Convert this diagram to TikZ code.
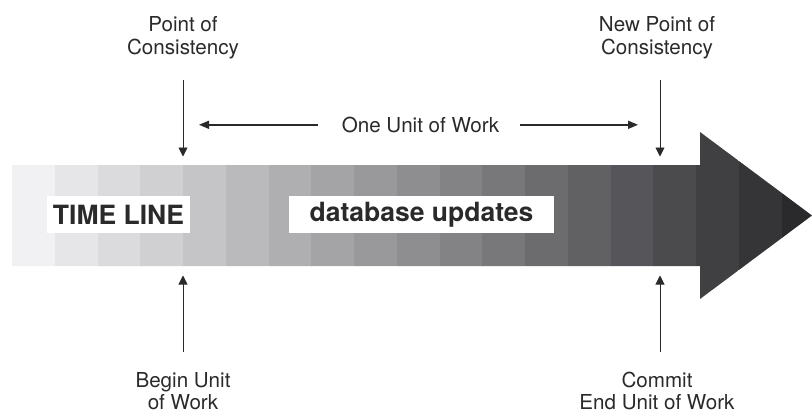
\documentclass[tikz,border=0pt]{standalone}
\usepackage{fontspec}
\setmainfont{TeX Gyre Heros}
\usepackage{xcolor}
\usepackage{tikz}
\usetikzlibrary{arrows.meta}

\definecolor{ink}{HTML}{2A2A2A}

\begin{document}
\begin{tikzpicture}[
  x=1pt, y=-1pt,
  every node/.style={text=ink, inner sep=0pt, align=center},
  label/.style={font=\fontsize{20.6}{22.6}\selectfont},
  tag/.style={fill=white, font=\fontsize{26.5}{28}\selectfont\bfseries,
    minimum height=37pt},
  tick/.style={draw=ink, line width=0.9pt, -{Triangle[length=9pt, width=9pt]}},
  span/.style={draw=ink, line width=1.6pt, -{Triangle[length=10pt, width=8pt]}}]

\useasboundingbox (0,0) rectangle (812,415);

% the time line arrow, cut in grey stripes
\begin{scope}
  \clip (12,165) -- (700,165) -- (700,132) -- (812,215.5) -- (700,299)
    -- (700,266) -- (12,266) -- cycle;
  \foreach \i in {0,...,18} {
    \pgfmathsetmacro\g{0.945-0.0433*\i}
    \pgfmathsetmacro\gb{min(1,\g+0.012)}
    \definecolor{stripe}{rgb}{\g,\g,\gb}
    \fill[stripe] ({12+42.75*\i},120) rectangle ({12+42.75*(\i+1)+0.3},310);
  }
\end{scope}

\node[tag, minimum width=143pt] (timeline) at (118.5,214.6) {TIME LINE};
\node[tag, minimum width=265pt] (updates) at (421.5,214.6) {database updates};

% labels
\node[label] (poc) at (183,37.5) {Point of\\Consistency};
\node[label] (npoc) at (657,37.5) {New Point of\\Consistency};
\node[label] (unit) at (420.5,124.8) {One Unit of Work};
\node[label] (begin) at (183,391) {Begin Unit\\of Work};
\node[label] (commit) at (657,391) {Commit\\End Unit of Work};

% where the unit of work starts and ends
\coordinate (start) at (183,215.5);
\coordinate (end) at (660,215.5);
\coordinate (top) at (0,156.5);
\coordinate (bottom) at (0,275.5);

\draw[tick] ([yshift=-21pt]poc.south) -- (start |- top);
\draw[tick] ([yshift=-21pt]npoc.south -| end) -- (end |- top);
\draw[tick] ([yshift=20pt]begin.north) -- (start |- bottom);
\draw[tick] ([yshift=20pt]commit.north -| end) -- (end |- bottom);

\draw[span, shorten <=24pt, shorten >=16pt] (unit) -- (unit -| start);
\draw[span, shorten <=21pt, shorten >=22pt] (unit) -- (unit -| end);
\end{tikzpicture}
\end{document}
